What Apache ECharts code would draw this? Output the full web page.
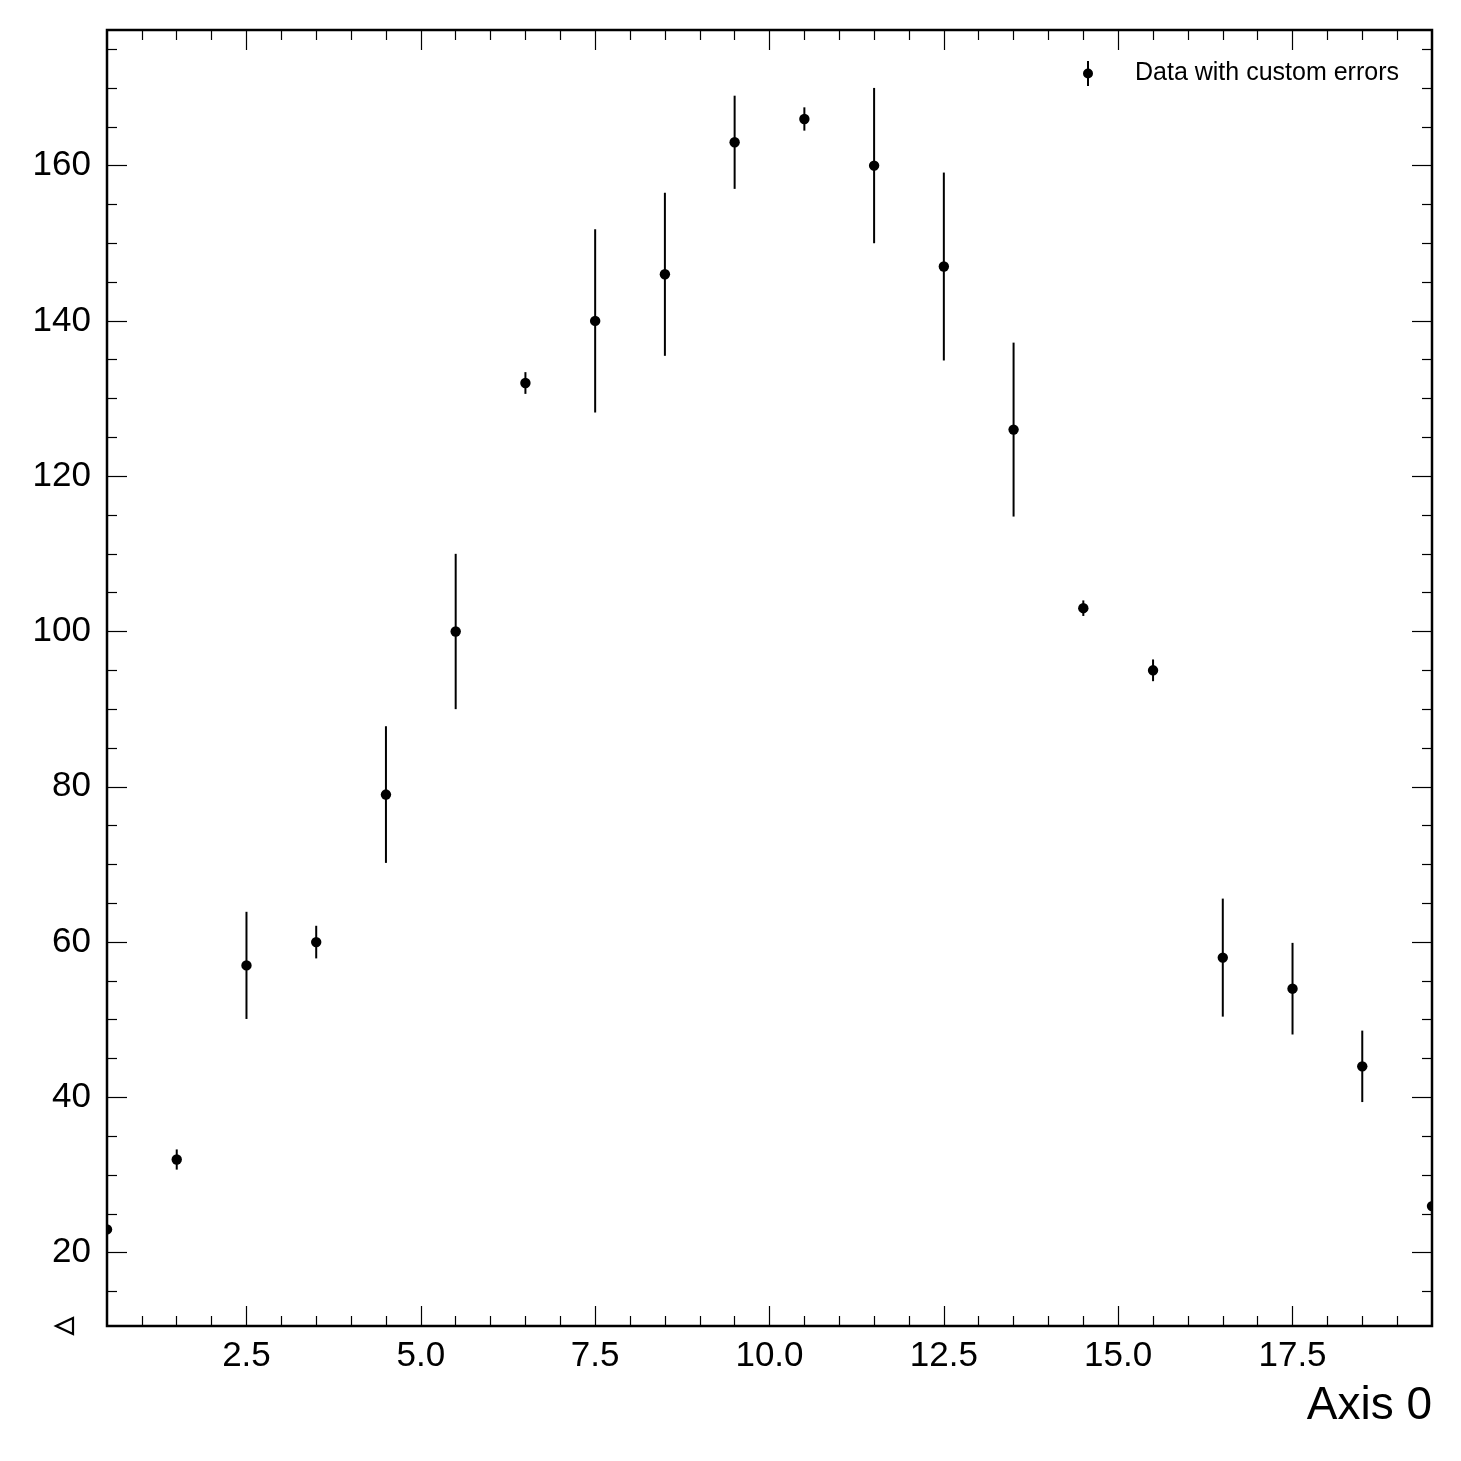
<!DOCTYPE html>
<html>
<head>
<meta charset="utf-8">
<script src="https://cdn.jsdelivr.net/npm/echarts@6/dist/echarts.min.js"></script>
<style>
  html, body { margin: 0; padding: 0; background: #fff; }
  #chart { width: 1461px; height: 1461px; }
</style>
</head>
<body>
<div id="chart"></div>
<script>
// ---- data ----
const xCenters = [0.5, 1.5, 2.5, 3.5, 4.5, 5.5, 6.5, 7.5, 8.5, 9.5, 10.5, 11.5, 12.5, 13.5, 14.5, 15.5, 16.5, 17.5, 18.5, 19.5];
const yValues  = [23, 32, 57, 60, 79, 100, 132, 140, 146, 163, 166, 160, 147, 126, 103, 95, 58, 54, 44, 26];
const yErrors  = [4.8, 1.3, 6.9, 2.1, 8.8, 10, 1.4, 11.8, 10.5, 6, 1.5, 10, 12.1, 11.2, 1, 1.4, 7.6, 5.9, 4.6, 5];
const seriesName = 'Data with custom errors';
const xAxisTitle = 'Axis 0';

// ---- ticks ----
const xMajorTicks = [2.5, 5, 7.5, 10, 12.5, 15, 17.5];
const xMinorTicks = [1, 1.5, 2, 3, 3.5, 4, 4.5, 5.5, 6, 6.5, 7, 8, 8.5, 9, 9.5, 10.5, 11, 11.5, 12, 13, 13.5, 14, 14.5, 15.5, 16, 16.5, 17, 18, 18.5, 19];
const yMajorTicks = [20, 40, 60, 80, 100, 120, 140, 160];
const yMinorTicks = [15, 25, 30, 35, 45, 50, 55, 65, 70, 75, 85, 90, 95, 105, 110, 115, 125, 130, 135, 145, 150, 155, 165, 170, 175];
const xMin = 0.5, xMax = 19.5;
const yMin = 10.56, yMax = 177.46;

const FONT = '"Liberation Sans", Arial, Helvetica, sans-serif';

const pointData = xCenters.map((x, i) => [x, yValues[i], yErrors[i]]);

function xAxisDef(position, ticks, len, labels) {
  return {
    type: 'value', gridIndex: 0, position: position,
    min: xMin, max: xMax,
    splitLine: { show: false },
    axisLine: { show: false },
    axisTick: { show: true, inside: true, length: len, customValues: ticks,
                lineStyle: { color: '#000', width: 1.2 } },
    axisLabel: labels ? {
      show: true, customValues: ticks, margin: 13,
      fontSize: 35, color: '#000', fontFamily: FONT,
      formatter: v => Number(v).toFixed(1)
    } : { show: false }
  };
}
function yAxisDef(position, ticks, len, labels) {
  return {
    type: 'value', gridIndex: 0, position: position,
    min: yMin, max: yMax,
    splitLine: { show: false },
    axisLine: { show: false },
    axisTick: { show: true, inside: true, length: len, customValues: ticks,
                lineStyle: { color: '#000', width: 1.2 } },
    axisLabel: labels ? {
      show: true, customValues: ticks, margin: 16,
      fontSize: 35, color: '#000', fontFamily: FONT,
      padding: [4, 0, 0, 0],
      formatter: v => String(Math.round(v))
    } : { show: false }
  };
}

const xAxes = [
  xAxisDef('bottom', xMajorTicks, 20, true),
  xAxisDef('bottom', xMinorTicks, 10, false),
  xAxisDef('top', xMajorTicks, 20, false),
  xAxisDef('top', xMinorTicks, 10, false)
];
xAxes[0].name = xAxisTitle;
xAxes[0].nameLocation = 'end';
xAxes[0].nameGap = 0;
xAxes[0].nameTextStyle = { fontSize: 46, color: '#000', fontFamily: FONT,
  align: 'right', verticalAlign: 'top', padding: [57, 0, 0, 0] };

const yAxes = [
  yAxisDef('left', yMajorTicks, 20, true),
  yAxisDef('left', yMinorTicks, 10, false),
  yAxisDef('right', yMajorTicks, 20, false),
  yAxisDef('right', yMinorTicks, 10, false)
];

const chart = echarts.init(document.getElementById('chart'), null, { renderer: 'canvas' });
chart.setOption({
  animation: false,
  backgroundColor: '#fff',
  grid: { left: 107, top: 30, width: 1325, height: 1296, show: true,
          borderColor: '#000', borderWidth: 2.5, backgroundColor: 'transparent' },
  xAxis: xAxes,
  yAxis: yAxes,
  legend: {
    left: 1083, top: 61, padding: 0,
    itemWidth: 10, itemHeight: 25,
    data: [{ name: seriesName,
             icon: 'path://M4,0H6V8H4Z M4,17H6V25H4Z M0,12.5A5,5 0 0,1 10,12.5A5,5 0 0,1 0,12.5Z' }],
    textStyle: { fontSize: 25, color: '#000', fontFamily: FONT, padding: [0, 0, 0, 37] }
  },
  graphic: [{
    type: 'polygon',
    shape: { points: [[56, 1326], [73, 1318], [73, 1334]] },
    style: { fill: 'none', stroke: '#000', lineWidth: 2.2 }
  }],
  series: [{
    name: seriesName,
    type: 'custom',
    xAxisIndex: 0, yAxisIndex: 0,
    clip: true,
    itemStyle: { color: '#000' },
    encode: { x: 0, y: 1 },
    data: pointData,
    renderItem: function (params, api) {
      const x = api.value(0), y = api.value(1), e = api.value(2);
      const c = api.coord([x, y]);
      const top = api.coord([x, y + e]);
      const bot = api.coord([x, y - e]);
      return {
        type: 'group',
        children: [
          { type: 'line', shape: { x1: top[0], y1: top[1], x2: bot[0], y2: bot[1] },
            style: { stroke: '#000', lineWidth: 2 } },
          { type: 'circle', shape: { cx: c[0], cy: c[1], r: 5.2 },
            style: { fill: '#000' } }
        ]
      };
    }
  }]
});
</script>
</body>
</html>
